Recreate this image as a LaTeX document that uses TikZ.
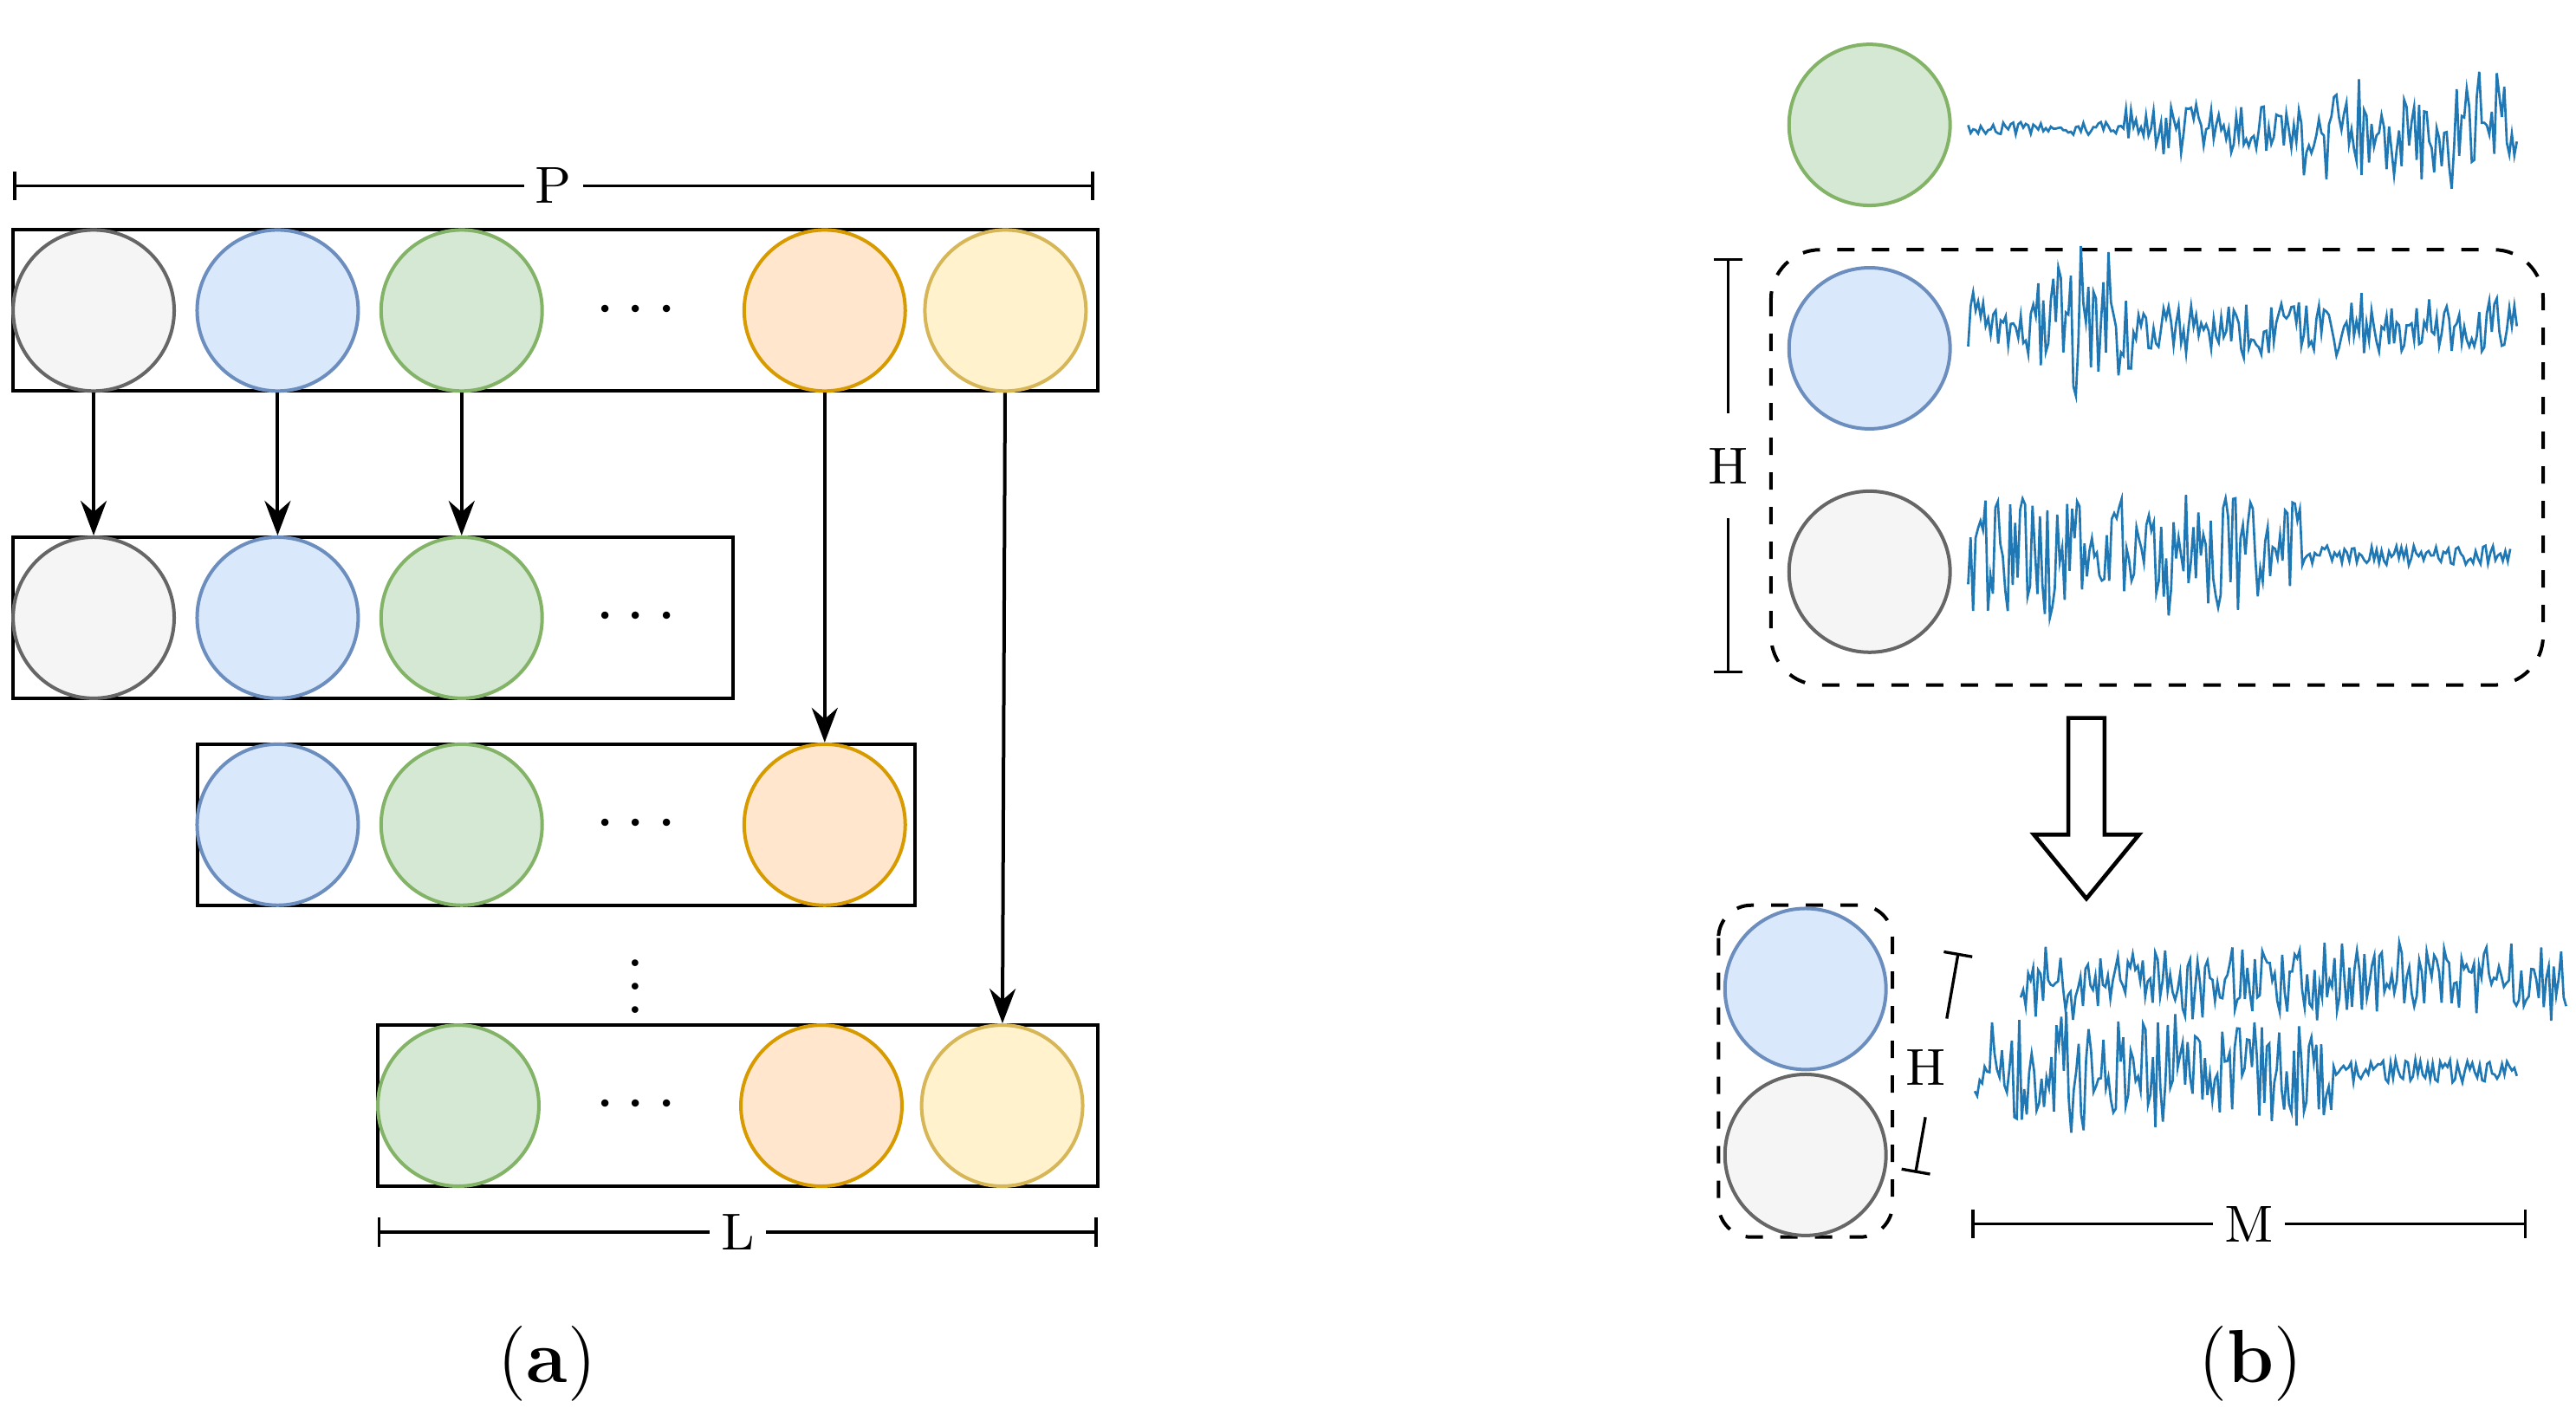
\documentclass[tikz,border=0pt]{standalone}
\usepackage{tikz}
\usepackage{xcolor}
\usetikzlibrary{arrows.meta, positioning}
\definecolor{cgrayf}{HTML}{F5F5F5}\definecolor{cgrayd}{HTML}{666666}
\definecolor{cbluef}{HTML}{DAE8FC}\definecolor{cblued}{HTML}{6C8EBF}
\definecolor{cgreenf}{HTML}{D5E8D4}\definecolor{cgreend}{HTML}{82B366}
\definecolor{corangef}{HTML}{FFE6CC}\definecolor{coranged}{HTML}{D79B00}
\definecolor{cyellowf}{HTML}{FFF2CC}\definecolor{cyellowd}{HTML}{D6B656}
\definecolor{sigblue}{HTML}{1F77B4}
\tikzset{
  ch/.style={circle, minimum size=0.98cm, inner sep=0pt, line width=0.6pt},
  gray/.style={ch, draw=cgrayd, fill=cgrayf},
  blue/.style={ch, draw=cblued, fill=cbluef},
  green/.style={ch, draw=cgreend, fill=cgreenf},
  orange/.style={ch, draw=coranged, fill=corangef},
  yellow/.style={ch, draw=cyellowd, fill=cyellowf},
  box/.style={draw=black, line width=0.6pt},
  dots/.style={font=\fontsize{12}{12}\selectfont},
  arrow/.style={-{Stealth[length=6pt]}, line width=0.6pt},
  dim/.style={|-|, line width=0.5pt},
  lab/.style={fill=white, inner sep=2pt, font=\fontsize{9}{11}\selectfont},
  sig/.style={sigblue, line width=0.4pt},
}
\begin{document}
\begin{tikzpicture}[x=0.01cm, y=-0.01cm]
\useasboundingbox (0,0) rectangle (1568,857);
% (a) permutation rows
\draw[box] (8,140) rectangle (668,238);
\node[gray] (t1) at (57,189) {};
\node[blue] (t2) at (169,189) {};
\node[green] (t3) at (281,189) {};
\node[dots] (td) at (387,189) {$\cdots$};
\node[orange] (t4) at (502,189) {};
\node[yellow] (t5) at (612,189) {};
\draw[dim] (8,113) -- node[lab] (pl) {P} (666,113);

\draw[box] (8,327) rectangle (446,425);
\node[gray] (m1) at (57,376) {};
\node[blue] (m2) at (169,376) {};
\node[green] (m3) at (281,376) {};
\node[dots] (md) at (387,376) {$\cdots$};

\draw[box] (120,453) rectangle (557,551);
\node[blue] (n2) at (169,502) {};
\node[green] (n3) at (281,502) {};
\node[dots] (nd) at (387,502) {$\cdots$};
\node[orange] (n4) at (502,502) {};

\node[dots, inner sep=0pt] (vd) at (387,590) {$\vdots$};

\draw[box] (230,624) rectangle (668,722);
\node[green] (b3) at (279,673) {};
\node[dots] (bd) at (387,673) {$\cdots$};
\node[orange] (b4) at (500,673) {};
\node[yellow] (b5) at (610,673) {};
\draw[dim] (230,750) -- node[lab] (ll) {L} (668,750);

\draw[arrow] (t1) -- (m1);
\draw[arrow] (t2) -- (m2);
\draw[arrow] (t3) -- (m3);
\draw[arrow] (t4) -- (n4);
\draw[arrow] (t5) -- (b5);

\node[font=\fontsize{13}{15}\selectfont] (capa) at (333,830) {(\textbf{a})};
\node[font=\fontsize{13}{15}\selectfont] (capb) at (1370,830) {(\textbf{b})};

% (b) channels and signals
\pgfmathsetseed{7}
\node[green] (g1) at (1138,76) {};
\draw[sig] plot[domain=1198:1532, samples=220] (\x, {78 + 4*rand + 14*rand*(\x>1290) + 26*rand*(\x>1400)});
\draw[dashed, line width=0.6pt, rounded corners=0.3cm] (1078,152) rectangle (1548,417);
\node[blue] (g2) at (1138,212) {};
\draw[sig] plot[domain=1198:1532, samples=220] (\x, {198 + 5*rand + 40*rand*(\x>1240)*(\x<1300) + 16*rand});
\node[gray] (g3) at (1138,348) {};
\draw[sig] plot[domain=1198:1528, samples=220] (\x, {338 + 6*rand + 35*rand*(\x<1400)});
\draw[dim] (1052,157) -- node[lab, inner ysep=6pt] (hl) {H} (1052,410);

% hollow arrow
\draw[line width=0.7pt, fill=white] (1259,437) -- (1281,437) -- (1281,508) -- (1302,508)
  -- (1270,547) -- (1238,508) -- (1259,508) -- cycle;

\draw[dashed, line width=0.6pt, rounded corners=0.2cm] (1046,551) rectangle (1152,753);
\node[blue] (s2) at (1099,602) {};
\node[gray] (s3) at (1099,703) {};
\draw[|-, line width=0.5pt] (1192,580) -- (1185,620);
\draw[-|, line width=0.5pt] (1172,680) -- (1166,714);
\node[lab] (hb) at (1172,650) {H};
\draw[sig] plot[domain=1230:1562, samples=220] (\x, {598 + 6*rand + 20*rand});
\draw[sig] plot[domain=1202:1532, samples=220] (\x, {652 + 7*rand + 32*rand*(\x<1420)});
\draw[dim] (1200,745) -- node[lab] (ml) {M} (1538,745);
\end{tikzpicture}
\end{document}
